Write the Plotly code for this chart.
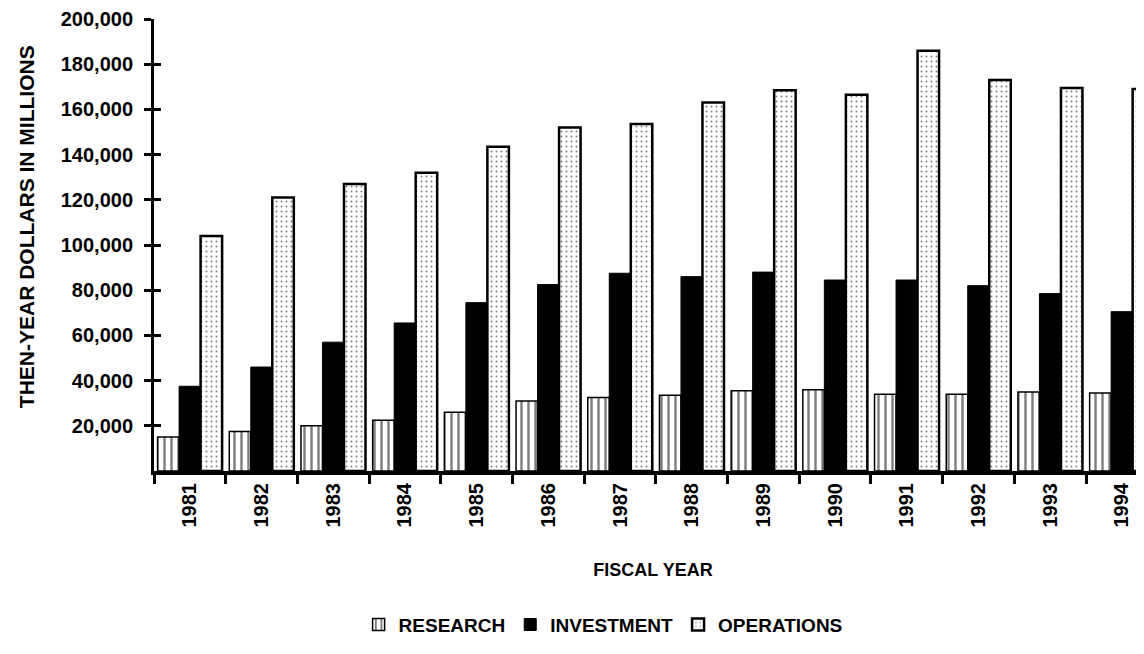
"""Then-year dollars by fiscal year, grouped bars."""

import plotly.graph_objects as go


YEARS = ["1981", "1982", "1983", "1984", "1985", "1986", "1987",
         "1988", "1989", "1990", "1991", "1992", "1993", "1994"]
RESEARCH = [15000, 17500, 20000, 22500, 26000, 31000, 32500,
            33500, 35500, 36000, 34000, 34000, 35000, 34500]
INVESTMENT = [37500, 46000, 57000, 65500, 74500, 82500, 87500,
              86000, 88000, 84500, 84500, 82000, 78500, 70500]
OPERATIONS = [104000, 121000, 127000, 132000, 143500, 152000, 153500,
              163000, 168500, 166500, 186000, 173000, 169500, 169000]
Y_TICKS = list(range(20000, 200001, 20000))

FONT = "Liberation Sans, Arial, sans-serif"
BLACK = "#000000"

fig = go.Figure()

fig.add_trace(go.Bar(
    x=YEARS, y=RESEARCH, name="RESEARCH",
    marker=dict(
        color="white",
        line=dict(color=BLACK, width=1.5),
        pattern=dict(shape="|", size=7, solidity=0.35,
                     fgcolor=BLACK, bgcolor="white"),
    ),
))

fig.add_trace(go.Bar(
    x=YEARS, y=INVESTMENT, name="INVESTMENT",
    marker=dict(color=BLACK, line=dict(color=BLACK, width=1)),
))

fig.add_trace(go.Bar(
    x=YEARS, y=OPERATIONS, name="OPERATIONS",
    marker=dict(
        color="white",
        line=dict(color=BLACK, width=2.5),
        pattern=dict(shape=".", size=5, solidity=0.12,
                     fgcolor=BLACK, bgcolor="white"),
    ),
))

# empty trace so the second y axis (inner half of the crossing ticks) is drawn
fig.add_trace(go.Scatter(x=[], y=[], yaxis="y2", showlegend=False,
                         hoverinfo="skip"))

fig.add_annotation(
    text="<b>THEN-YEAR DOLLARS IN MILLIONS</b>",
    xref="paper", yref="paper",
    x=-0.127, y=0.54, xanchor="center", yanchor="middle",
    textangle=-90, showarrow=False,
    font=dict(family=FONT, size=21, color=BLACK),
)

fig.update_layout(
    width=1144, height=654,
    margin=dict(l=146, r=0, t=11, b=191),
    barmode="group",
    bargap=0.1,
    bargroupgap=0,
    plot_bgcolor="white",
    paper_bgcolor="white",
    font=dict(family=FONT, size=20, color=BLACK),
    xaxis=dict(
        type="category",
        range=[-0.5, 13.42],
        tickson="boundaries",
        ticks="outside", ticklen=9, tickwidth=3, tickcolor=BLACK,
        tickangle=-90,
        tickfont=dict(family=FONT, size=20, color=BLACK, weight="bold"),
        showline=True, linecolor=BLACK, linewidth=4,
        showgrid=False,
        title=dict(text="<b>FISCAL YEAR</b>", standoff=38,
                   font=dict(family=FONT, size=18, color=BLACK)),
    ),
    yaxis=dict(
        range=[0, 200000],
        tickvals=Y_TICKS,
        ticktext=[f"{v:,}" for v in Y_TICKS],
        ticks="outside", ticklen=7, tickwidth=3, tickcolor=BLACK,
        ticklabelstandoff=7,
        tickfont=dict(family=FONT, size=20, color=BLACK, weight="bold"),
        showline=True, linecolor=BLACK, linewidth=3,
        showgrid=False, zeroline=False,
    ),
    yaxis2=dict(
        overlaying="y", side="left",
        range=[0, 200000],
        tickvals=Y_TICKS,
        showticklabels=False,
        ticks="inside", ticklen=7, tickwidth=3, tickcolor=BLACK,
        showline=False, showgrid=False, zeroline=False,
    ),
    legend=dict(
        orientation="h",
        x=0.45, xanchor="center",
        y=-0.34, yanchor="middle",
        font=dict(family=FONT, size=19, color=BLACK, weight="bold"),
        itemwidth=30,
        tracegroupgap=0,
    ),
)

fig.write_html("out.html")
